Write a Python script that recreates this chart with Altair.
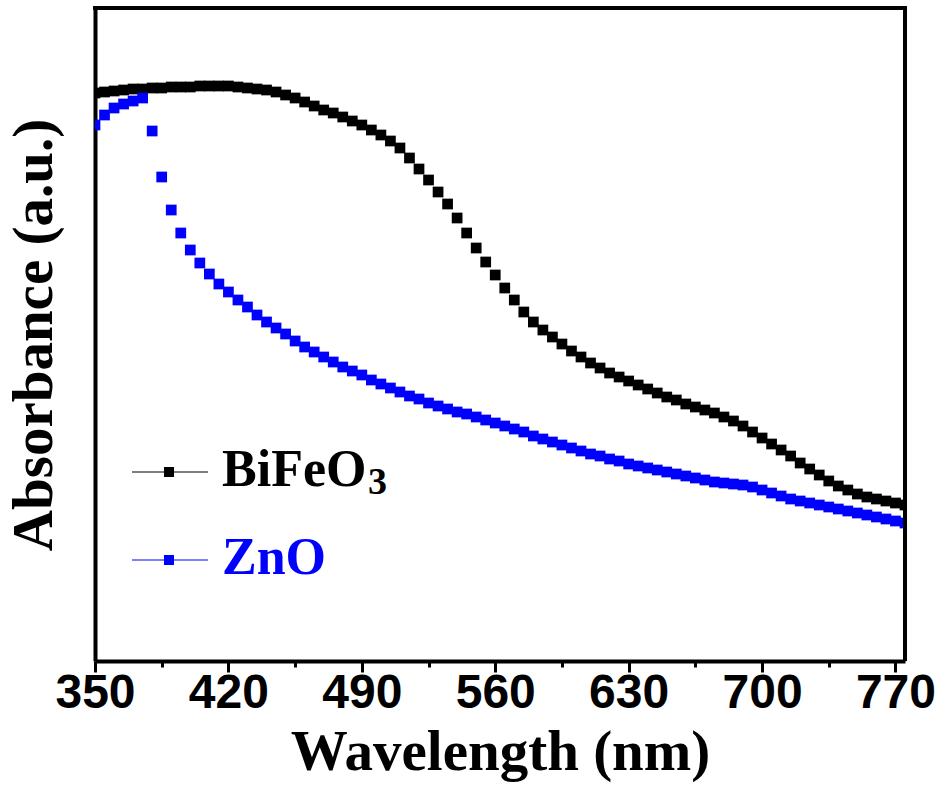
import altair as alt
import pandas as pd

wavelength = list(range(350, 780, 5))

bifeo3 = [568, 569, 570, 571, 572, 572, 573, 573, 574, 574,
          574, 575, 575, 575, 575, 574, 573, 572, 571, 569,
          566, 563, 559, 555, 551, 548, 544, 540, 536, 531,
          526, 520, 513, 503, 492, 481, 469, 457, 443, 428,
          413, 399, 386, 373, 361, 349, 339, 331, 324, 317,
          310, 304, 298, 293, 288, 284, 280, 276, 272, 268,
          264, 261, 257, 254, 251, 248, 244, 240, 235, 229,
          223, 217, 211, 205, 198, 192, 186, 180, 175, 171,
          167, 164, 162, 160, 158, 156]

zno = [536, 546, 553, 557, 560, 563, 530, 484, 451, 428,
       411, 398, 387, 377, 369, 361, 354, 346, 339, 333,
       327, 320, 314, 309, 304, 299, 294, 290, 286, 281,
       277, 273, 269, 265, 262, 258, 255, 252, 249, 247,
       244, 241, 238, 235, 232, 229, 225, 222, 219, 216,
       213, 210, 207, 205, 202, 200, 197, 195, 193, 191,
       189, 187, 185, 183, 181, 179, 178, 177, 176, 174,
       171, 168, 165, 162, 160, 158, 156, 154, 152, 150,
       148, 146, 144, 142, 140, 138]

series_names = ["BiFeO3", "ZnO"]
series_colors = ["#000000", "#0000ff"]
x_ticks = list(range(350, 775, 35))

df = pd.concat([
    pd.DataFrame({"wl": wavelength, "abs": bifeo3, "series": series_names[0]}),
    pd.DataFrame({"wl": wavelength, "abs": zno, "series": series_names[1]}),
])

W, H = 810, 653

x_enc = alt.X("wl:Q",
              scale=alt.Scale(domain=[350, 775], nice=False, zero=False),
              axis=alt.Axis(title="Wavelength (nm)", values=x_ticks,
                            labelExpr="datum.value % 70 == 0 ? datum.label : ''",
                            grid=False, domain=True, domainColor="black", domainWidth=4,
                            ticks=True, tickColor="black", tickWidth=3,
                            tickSize={"condition": {"test": "datum.value % 70 == 0", "value": 11}, "value": 6},
                            labelFont="Liberation Sans Narrow, Arial Narrow, Liberation Sans",
                            labelFontWeight="bold",
                            labelFontSize=48, labelColor="black", labelPadding=-3,
                            labelBaseline="top", labelFlush=False, labelOverlap=False,
                            titleFont="Liberation Serif", titleFontWeight="bold",
                            titleFontSize=57, titleColor="black", titlePadding=7))
y_enc = alt.Y("abs:Q",
              scale=alt.Scale(domain=[0, 653], nice=False, zero=False),
              axis=alt.Axis(title="Absorbance (a.u.)", labels=False, ticks=False, grid=False,
                            domain=True, domainColor="black", domainWidth=4,
                            titleFont="Liberation Serif", titleFontWeight="bold",
                            titleFontSize=57, titleColor="black", titlePadding=32))
color_enc = alt.Color("series:N", scale=alt.Scale(domain=series_names, range=series_colors), legend=None)

points = alt.Chart(df).mark_square(size=115, opacity=1, clip=True).encode(x=x_enc, y=y_enc, color=color_enc)

# frame (top and right sides of the box)
frame_src = alt.Chart(pd.DataFrame({"k": [0]}))
top_rule = frame_src.mark_rule(color="black", strokeWidth=4).encode(
    x=alt.value(-2), x2=alt.value(W + 2), y=alt.value(0))
right_rule = frame_src.mark_rule(color="black", strokeWidth=4).encode(
    x=alt.value(W), y=alt.value(0), y2=alt.value(H))


def legend_row(i, name, color, label):
    yl = 464 + 88 * i
    base = alt.Chart(pd.DataFrame({"series": [name], "label": [label]}))
    rule = base.mark_rule(color=color, strokeWidth=1.2).encode(
        x=alt.value(37), x2=alt.value(113), y=alt.value(yl))
    sq = base.mark_square(size=100, color=color, opacity=1).encode(
        x=alt.value(74), y=alt.value(yl))
    txt = base.mark_text(font="Liberation Serif", fontWeight="bold", fontSize=52,
                         color=color, align="left", baseline="alphabetic").encode(
        x=alt.value(127), y=alt.value(yl + 14), text="label:N")
    return [rule, sq, txt]


layers = [points, top_rule, right_rule]
layers += legend_row(0, series_names[0], series_colors[0], "BiFeO")
layers += legend_row(1, series_names[1], series_colors[1], "ZnO")
sub = alt.Chart(pd.DataFrame({"t": ["3"]})).mark_text(
    font="Liberation Serif", fontWeight="bold", fontSize=38, color="black",
    align="left", baseline="alphabetic").encode(x=alt.value(273), y=alt.value(486), text="t:N")
layers.append(sub)

chart = alt.layer(*layers).properties(
    width=W, height=H,
    autosize=alt.AutoSizeParams(type="none"),
    padding={"left": 95, "top": 8, "right": 33, "bottom": 128},
).configure_view(stroke=None).configure(background="white")

chart.save("out.html", embed_options={"renderer": "svg", "actions": False})
